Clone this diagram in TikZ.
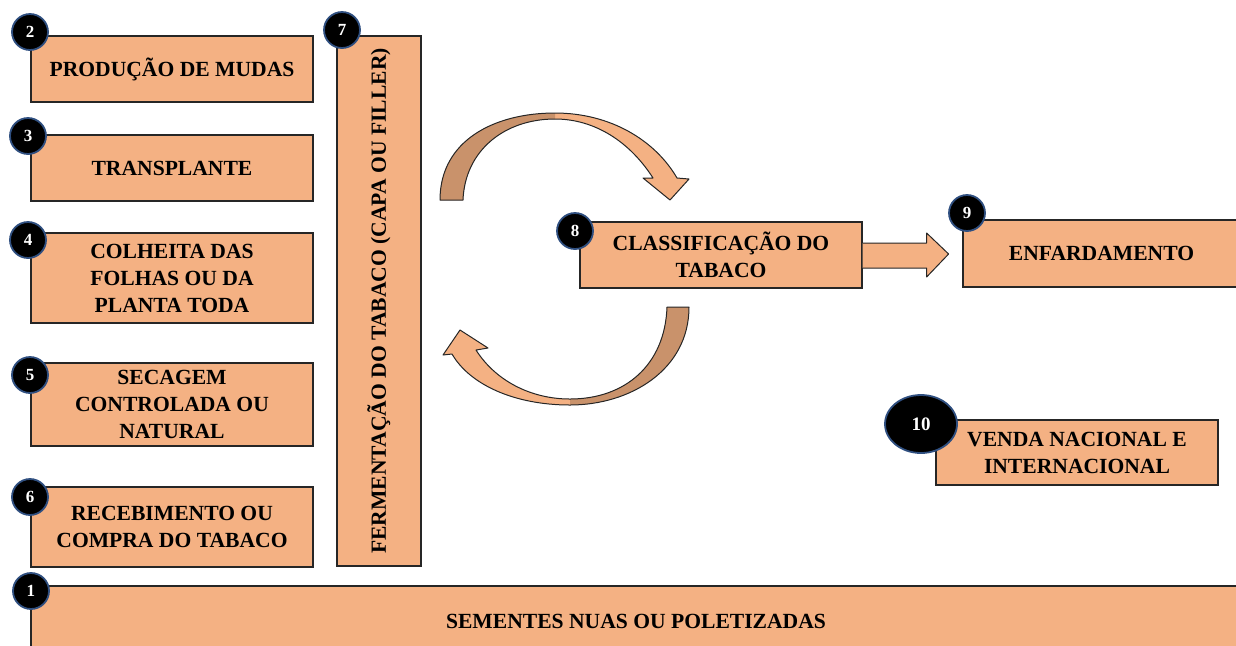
\documentclass[tikz,border=0pt]{standalone}
\usepackage{fontspec}
\setmainfont{Liberation Serif}
\usetikzlibrary{calc,shapes.geometric}
\definecolor{boxfill}{HTML}{F4B183}
\definecolor{arrowdark}{HTML}{C9926B}
\definecolor{ringblue}{HTML}{2F4F80}
\begin{document}
\begin{tikzpicture}[x=0.5pt,y=-0.5pt,
	box/.style={draw=black!85,fill=boxfill,line width=0.6pt,align=center,inner sep=0pt,
		font=\bfseries\fontsize{10.8}{13.5}\selectfont},
	num/.style={circle,fill=black,draw=ringblue,line width=0.9pt,minimum size=18pt,
		inner sep=0pt,text=white,font=\bfseries\fontsize{8.5}{10}\selectfont},
	ribbon/.style={fill=boxfill,draw=black!85,line width=0.5pt,line join=round}]
	\useasboundingbox (0,0) rectangle (1236,645);
	\node[box,minimum width=141pt,minimum height=33pt] (b2) at (172,69) {PRODUÇÃO DE MUDAS};
	\node[box,minimum width=141pt,minimum height=33pt] (b3) at (172,168) {TRANSPLANTE};
	\node[box,minimum width=141pt,minimum height=45pt] (b4) at (172,278) {COLHEITA DAS\\FOLHAS OU DA\\PLANTA TODA};
	\node[box,minimum width=141pt,minimum height=41.5pt] (b5) at (172,404.5) {SECAGEM\\CONTROLADA OU\\NATURAL};
	\node[box,minimum width=141pt,minimum height=40pt] (b6) at (172,527) {RECEBIMENTO OU\\COMPRA DO TABACO};
	\node[box,minimum width=42pt,minimum height=265pt] (b7) at (379,301) {};
	\node[rotate=90,font=\bfseries\fontsize{10.8}{13.5}\selectfont] at (b7.center) {FERMENTAÇÃO DO TABACO (CAPA OU FILLER)};
	\node[box,minimum width=141pt,minimum height=33pt] (b8) at (721,255) {CLASSIFICAÇÃO DO\\TABACO};
	\node[box,minimum width=138.5pt,minimum height=33.5pt] (b9) at (1101.5,253.5) {ENFARDAMENTO};
	\node[box,minimum width=141pt,minimum height=32.5pt] (b10) at (1077,452.5) {VENDA NACIONAL E\\INTERNACIONAL};
	\node[box,minimum width=605pt,minimum height=35pt] (b1) at (636,621) {SEMENTES NUAS OU POLETIZADAS};
	% curved arrows round the fermentation
	\fill[boxfill] (440,200) .. controls (440,140) and (495,113) .. (555,113)
		.. controls (610,113) and (655,140) .. (677,178) -- (689,179) -- (670,200) -- (643,178) -- (653,178)
		.. controls (630,142) and (595,119) .. (555,119) .. controls (505,119) and (465,150) .. (463,200) -- cycle;
	\fill[arrowdark] (440,200) .. controls (440,140) and (495,113) .. (555,113) -- (555,119)
		.. controls (505,119) and (465,150) .. (463,200) -- cycle;
	\draw[ribbon,fill=none] (440,200) .. controls (440,140) and (495,113) .. (555,113)
		.. controls (610,113) and (655,140) .. (677,178) -- (689,179) -- (670,200) -- (643,178) -- (653,178)
		.. controls (630,142) and (595,119) .. (555,119) .. controls (505,119) and (465,150) .. (463,200) -- cycle;
	\fill[boxfill] (689,307) .. controls (689,370) and (630,405) .. (570,405)
		.. controls (515,405) and (470,385) .. (452,354) -- (443,355) -- (460,330) -- (488,348) -- (476,350)
		.. controls (495,380) and (530,399) .. (570,399) .. controls (625,399) and (665,365) .. (667,307) -- cycle;
	\fill[arrowdark] (689,307) .. controls (689,370) and (630,405) .. (570,405) -- (570,399)
		.. controls (625,399) and (665,365) .. (667,307) -- cycle;
	\draw[ribbon,fill=none] (689,307) .. controls (689,370) and (630,405) .. (570,405)
		.. controls (515,405) and (470,385) .. (452,354) -- (443,355) -- (460,330) -- (488,348) -- (476,350)
		.. controls (495,380) and (530,399) .. (570,399) .. controls (625,399) and (665,365) .. (667,307) -- cycle;
	% block arrow 8 -> 9
	\draw[ribbon] ($(b8.east)+(0,-12)$) -- ++(64,0) -- ++(0,-10) -- ($(b8.east)+(86,-1)$)
		-- ($(b8.east)+(64,22)$) -- ++(0,-9) -- ($(b8.east)+(0,13)$);
	\foreach \n/\x/\y in {1/31/591, 2/30/32, 3/28/136, 4/28/240, 5/30/375, 6/30/497, 7/342/30, 8/575/231, 9/967/213}
		\node[num] (n\n) at (\x,\y) {\n};
	\node[num,ellipse,minimum width=36pt,minimum height=29pt,font=\bfseries\fontsize{9.5}{11}\selectfont] (n10) at (921,424) {10};
\end{tikzpicture}
\end{document}
